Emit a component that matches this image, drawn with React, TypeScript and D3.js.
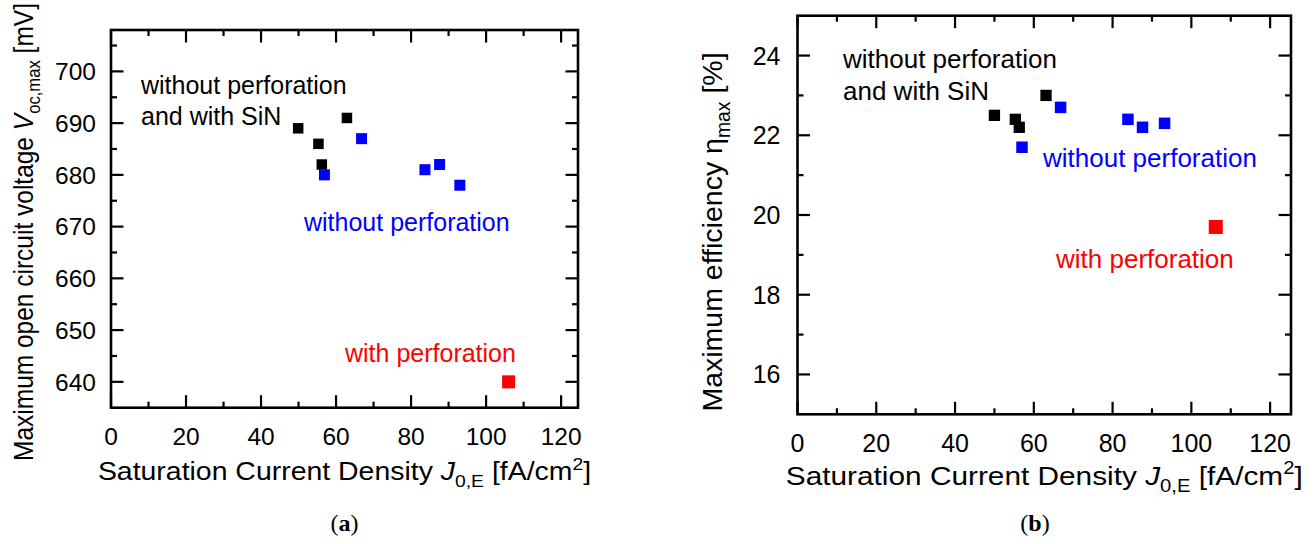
import React from "react";
import * as d3 from "d3";

// ---- Data ----
// Panel (a): Maximum open circuit voltage vs J0,E
const jBlackA = [49.9, 55.3, 56.2, 62.9];
const vocBlack = [689, 686, 682, 691];
const jBlueA = [56.9, 66.8, 83.7, 87.6, 93.0];
const vocBlue = [680, 687, 681, 682, 678];
const jRedA = [106.0];
const vocRed = [640];

// Panel (b): Maximum efficiency vs J0,E
const jBlackB = [50.0, 55.3, 56.3, 63.1];
const etaBlack = [22.5, 22.4, 22.2, 23.0];
const jBlueB = [57.0, 66.8, 83.9, 87.6, 93.2];
const etaBlue = [21.7, 22.7, 22.4, 22.2, 22.3];
const jRedB = [106.2];
const etaRed = [19.7];

// Tick values
const xMajor = [0, 20, 40, 60, 80, 100, 120];
const xMinor = [10, 30, 50, 70, 90, 110];
const yMajorA = [640, 650, 660, 670, 680, 690, 700];
const yMinorA = [645, 655, 665, 675, 685, 695, 705];
const yMajorB = [16, 18, 20, 22, 24];
const yMinorB = [17, 19, 21, 23];

const FONT = "'Liberation Sans', Arial, sans-serif";
const SERIF = "'Liberation Serif', 'DejaVu Serif', serif";

type Series = { x: number[]; y: number[]; color: string; size: number };
type Note = { lines: string[]; color: string; x: number; y: number };

type PanelProps = {
  left: number;
  top: number;
  right: number;
  bottom: number;
  xDomain: [number, number];
  yDomain: [number, number];
  yMajor: number[];
  yMinor: number[];
  series: Series[];
  notes: Note[];
  tickFont: number;
  noteFont: number;
  xTitleFont: number;
  xTitleStretch: number;
  yTitleFont: number;
  yTitleStretch: number;
  xTickBaseline: number;
  xTitleBaseline: number;
  yTitleX: number;
  yTitleY: number;
  yTitle: (f: number) => React.ReactNode;
  yLabelGap: number;
  lineGap: number;
};

function Panel(p: PanelProps) {
  const x = d3.scaleLinear().domain(p.xDomain).range([p.left, p.right]);
  const y = d3.scaleLinear().domain(p.yDomain).range([p.bottom, p.top]);
  const major = 12.5;
  const minor = 6;
  const tk = { stroke: "#000", strokeWidth: 2.2 };
  const cx = (p.left + p.right) / 2;
  const tf = p.xTitleFont;
  return (
    <g>
      {/* ticks on all four sides, pointing inward */}
      {xMajor.map((v) => (
        <g key={"xM" + v}>
          <line x1={x(v)} x2={x(v)} y1={p.bottom} y2={p.bottom - major} {...tk} />
          <line x1={x(v)} x2={x(v)} y1={p.top} y2={p.top + major} {...tk} />
          <text x={x(v)} y={p.xTickBaseline} textAnchor="middle" fontSize={p.tickFont} fontFamily={FONT}>
            {v}
          </text>
        </g>
      ))}
      {xMinor.map((v) => (
        <g key={"xm" + v}>
          <line x1={x(v)} x2={x(v)} y1={p.bottom} y2={p.bottom - minor} {...tk} />
          <line x1={x(v)} x2={x(v)} y1={p.top} y2={p.top + minor} {...tk} />
        </g>
      ))}
      {p.yMajor.map((v) => (
        <g key={"yM" + v}>
          <line x1={p.left} x2={p.left + major} y1={y(v)} y2={y(v)} {...tk} />
          <line x1={p.right} x2={p.right - major} y1={y(v)} y2={y(v)} {...tk} />
          <text
            x={p.left - p.yLabelGap}
            y={y(v)}
            dy="0.36em"
            textAnchor="end"
            fontSize={p.tickFont}
            fontFamily={FONT}
          >
            {v}
          </text>
        </g>
      ))}
      {p.yMinor.map((v) => (
        <g key={"ym" + v}>
          <line x1={p.left} x2={p.left + minor} y1={y(v)} y2={y(v)} {...tk} />
          <line x1={p.right} x2={p.right - minor} y1={y(v)} y2={y(v)} {...tk} />
        </g>
      ))}
      <rect
        x={p.left}
        y={p.top}
        width={p.right - p.left}
        height={p.bottom - p.top}
        fill="none"
        stroke="#000"
        strokeWidth={2.6}
      />
      {/* data */}
      {p.series.map((s, si) =>
        s.x.map((xv, i) => (
          <rect
            key={si + "-" + i}
            x={x(xv) - s.size / 2}
            y={y(s.y[i]) - s.size / 2}
            width={s.size}
            height={s.size}
            fill={s.color}
          />
        ))
      )}
      {/* annotations */}
      {p.notes.map((n, ni) => (
        <text key={"n" + ni} fontSize={p.noteFont} fontFamily={FONT} fill={n.color}>
          {n.lines.map((l, li) => (
            <tspan key={li} x={n.x} y={n.y + li * p.lineGap}>
              {l}
            </tspan>
          ))}
        </text>
      ))}
      {/* x axis title */}
      <g transform={`translate(${cx},${p.xTitleBaseline}) scale(${p.xTitleStretch},1)`}>
        <text x={0} y={0} textAnchor="middle" fontSize={tf} fontFamily={FONT}>
          Saturation Current Density <tspan fontStyle="italic">J</tspan>
          <tspan fontSize={tf * 0.68} dy={tf * 0.28}>
            0,E
          </tspan>
          <tspan dy={-tf * 0.28}> [fA/cm</tspan>
          <tspan fontSize={tf * 0.68} dy={-tf * 0.4}>
            2
          </tspan>
          <tspan dy={tf * 0.4}>]</tspan>
        </text>
      </g>
      {/* y axis title */}
      <g transform={`translate(${p.yTitleX},${p.yTitleY}) rotate(-90) scale(1,${p.yTitleStretch})`}>
        <text x={0} y={0} textAnchor="middle" fontSize={p.yTitleFont} fontFamily={FONT}>
          {p.yTitle(p.yTitleFont)}
        </text>
      </g>
    </g>
  );
}

export default function App() {
  return (
    <svg
      width={1315}
      height={544}
      style={{ position: "absolute", left: 0, top: 0, background: "#fff" }}
    >
      <rect x={0} y={0} width={1315} height={544} fill="#fff" />
      <Panel
        left={111}
        top={30}
        right={578}
        bottom={407.7}
        xDomain={[0, 124.5]}
        yDomain={[635, 708]}
        yMajor={yMajorA}
        yMinor={yMinorA}
        series={[
          { x: jBlackA, y: vocBlack, color: "#000000", size: 10.5 },
          { x: jBlueA, y: vocBlue, color: "#0000ff", size: 11 },
          { x: jRedA, y: vocRed, color: "#ff0000", size: 13 },
        ]}
        notes={[
          { lines: ["without perforation", "and with SiN"], color: "#000", x: 141, y: 93.5 },
          { lines: ["without perforation"], color: "#0000ff", x: 304, y: 230.7 },
          { lines: ["with perforation"], color: "#ff0000", x: 345, y: 361.7 },
        ]}
        tickFont={24.5}
        noteFont={25}
        xTitleFont={25.5}
        xTitleStretch={1.115}
        yTitleFont={24.5}
        yTitleStretch={1.12}
        xTickBaseline={445}
        xTitleBaseline={480}
        yTitleX={32.5}
        yTitleY={232}
        yLabelGap={15}
        lineGap={31.5}
        yTitle={(f) => (
          <>
            Maximum open circuit voltage <tspan fontStyle="italic">V</tspan>
            <tspan fontSize={f * 0.68} dy={f * 0.28}>
              oc,max
            </tspan>
            <tspan dy={-f * 0.28}> [mV]</tspan>
          </>
        )}
      />
      <Panel
        left={797.5}
        top={15.7}
        right={1291}
        bottom={414.3}
        xDomain={[0, 125.3]}
        yDomain={[15, 25]}
        yMajor={yMajorB}
        yMinor={yMinorB}
        series={[
          { x: jBlackB, y: etaBlack, color: "#000000", size: 11.3 },
          { x: jBlueB, y: etaBlue, color: "#0000ff", size: 11.5 },
          { x: jRedB, y: etaRed, color: "#ff0000", size: 14 },
        ]}
        notes={[
          { lines: ["without perforation", "and with SiN"], color: "#000", x: 843, y: 67.7 },
          { lines: ["without perforation"], color: "#0000ff", x: 1043, y: 166.7 },
          { lines: ["with perforation"], color: "#ff0000", x: 1056, y: 268.3 },
        ]}
        tickFont={25}
        noteFont={26}
        xTitleFont={26.5}
        xTitleStretch={1.125}
        yTitleFont={28.5}
        yTitleStretch={1.0}
        xTickBaseline={451.7}
        xTitleBaseline={485}
        yTitleX={722}
        yTitleY={232}
        yLabelGap={17}
        lineGap={32.5}
        yTitle={(f) => (
          <>
            Maximum efficiency η
            <tspan fontSize={f * 0.68} dy={f * 0.28}>
              max
            </tspan>
            <tspan dy={-f * 0.28}> [%]</tspan>
          </>
        )}
      />
      {/* panel captions */}
      <text x={344.5} y={531} textAnchor="middle" fontSize={24} fontFamily={SERIF}>
        (<tspan fontWeight="bold">a</tspan>)
      </text>
      <text x={1035} y={531} textAnchor="middle" fontSize={24} fontFamily={SERIF}>
        (<tspan fontWeight="bold">b</tspan>)
      </text>
    </svg>
  );
}
